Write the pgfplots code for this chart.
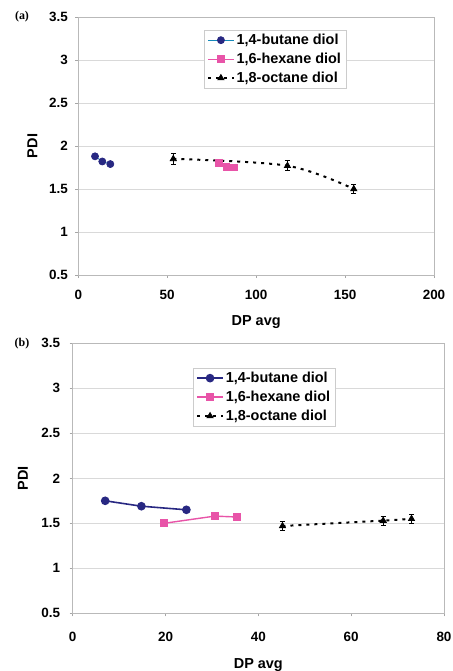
\documentclass[border=0pt]{standalone}
\usepackage{fontspec}
\setmainfont{Liberation Sans}
\newfontfamily\serifbold{Liberation Serif}
\usepackage{pgfplots}
\pgfplotsset{compat=1.18}

\definecolor{butane}{RGB}{40,40,130}
\definecolor{hexane}{RGB}{232,84,168}

\pgfplotsset{
  panel/.style={
    scale only axis,
    ymin=0.5, ymax=3.5,
    ytick={0.5,1,1.5,2,2.5,3,3.5},
    yticklabels={0.5,1,1.5,2,2.5,3,3.5},
    ymajorgrids,
    grid style={gray!30, line width=0.7pt},
    axis line style={gray!55, line width=0.8pt},
    tick style={gray!70, line width=0.8pt},
    tick align=outside, tick pos=left,
    major tick length=3bp,
    ticklabel style={font=\fontsize{13.5}{15}\selectfont\bfseries},
    label style={font=\fontsize{14.5}{16}\selectfont\bfseries},
    /pgf/number format/assume math mode=true,
    legend style={draw=gray!40, line width=0.6pt, font=\fontsize{14.5}{17}\selectfont\bfseries,
      inner xsep=3bp, inner ysep=2bp, row sep=3bp},
    legend cell align=left,
    legend image code/.code={
      \draw[mark repeat=2, mark phase=2] plot coordinates {(0cm,0cm) (0.45cm,0cm) (0.9cm,0cm)};},
    xlabel={DP avg}, ylabel={PDI},
  },
  but/.style={color=butane, mark=*, mark size=3.5bp},
  hex/.style={color=hexane, mark=square*, mark size=3.3bp},
  oct/.style={color=black, mark=triangle*, mark size=3.5bp, line width=2pt,
    dash pattern=on 3bp off 5bp, mark options={solid, line width=0.8pt},
    error bars/y dir=both, error bars/y explicit,
    error bars/error bar style={solid, line width=1pt},
    error bars/error mark options={rotate=90, mark size=2.5bp, solid, line width=1pt}},
}

\begin{document}
\begin{tikzpicture}
\useasboundingbox (0,0) rectangle (453bp,-671bp);

% panel (a)
\begin{axis}[panel,
    at={(78.3bp,-275bp)}, anchor=south west,
    width=355.7bp, height=258bp,
    xmin=0, xmax=200, xtick={0,50,100,150,200},
    xticklabel style={yshift=-9bp},
    yticklabel style={xshift=-4bp},
    xlabel style={at={(axis description cs:0.5,-0.182)}, anchor=center},
    ylabel style={at={(axis description cs:-0.129,0.5)}, anchor=center},
    legend style={at={(axis description cs:0.353,0.95)}, anchor=north west},
]
\addplot[but, line width=0.8pt, color=butane!55!cyan, mark options={fill=butane, draw=butane}]
  coordinates {(9.4,1.88) (13.5,1.82) (18,1.79)};
\addplot[hex, line width=1.2pt] coordinates {(79.2,1.80) (83.3,1.76) (87.5,1.75)};
\addplot[smooth, tension=0.55, oct] coordinates {
  (53.4,1.85) +- (0,0.06)
  (117.6,1.77) +- (0,0.06)
  (154.9,1.50) +- (0,0.05)
};
\legend{{1,4-butane diol}, {1,6-hexane diol}, {1,8-octane diol}}
\end{axis}

% panel (b)
\begin{axis}[panel,
    at={(72.7bp,-613.3bp)}, anchor=south west,
    width=371.3bp, height=270bp,
    xmin=0, xmax=80, xtick={0,20,40,60,80},
    xticklabel style={yshift=-12bp},
    yticklabel style={xshift=-6bp},
    xlabel style={at={(axis description cs:0.5,-0.19)}, anchor=center},
    ylabel style={at={(axis description cs:-0.134,0.5)}, anchor=center},
    legend style={at={(axis description cs:0.324,0.909)}, anchor=north west},
]
\addplot[but, line width=1.6pt] coordinates {(7.0,1.75) (14.8,1.69) (24.5,1.65)};
\addplot[hex, line width=1.4pt] coordinates {(19.7,1.50) (30.6,1.58) (35.4,1.57)};
\addplot[smooth, tension=0.3, oct] coordinates {
  (45.2,1.47) +- (0,0.05)
  (66.9,1.53) +- (0,0.05)
  (73.0,1.55) +- (0,0.05)
};
\legend{{1,4-butane diol}, {1,6-hexane diol}, {1,8-octane diol}}
\end{axis}

\node[font=\serifbold\fontsize{12}{14}\selectfont\bfseries] at (22bp,-17bp) {(a)};
\node[font=\serifbold\fontsize{12}{14}\selectfont\bfseries] at (22bp,-344bp) {(b)};
\end{tikzpicture}
\end{document}
